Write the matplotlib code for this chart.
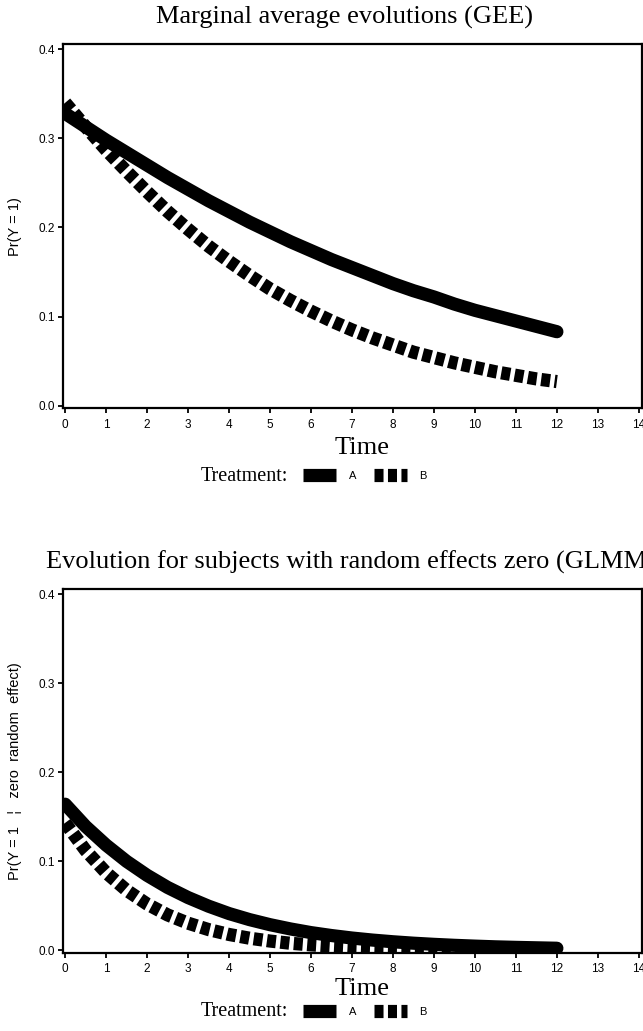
import matplotlib.pyplot as plt
from matplotlib.lines import Line2D

# values (probability curves per treatment)
time = [0, 0.5, 1, 1.5, 2, 2.5, 3, 3.5, 4, 4.5, 5, 5.5, 6, 6.5, 7, 7.5, 8,
        8.5, 9, 9.5, 10, 10.5, 11, 11.5, 12]

gee_a = [0.328, 0.313, 0.298, 0.284, 0.270, 0.256, 0.243, 0.230, 0.218, 0.206,
         0.195, 0.184, 0.174, 0.164, 0.155, 0.146, 0.137, 0.129, 0.122, 0.114,
         0.107, 0.101, 0.095, 0.089, 0.083]
gee_b = [0.340, 0.313, 0.287, 0.263, 0.240, 0.218, 0.198, 0.179, 0.162, 0.146,
         0.131, 0.118, 0.106, 0.095, 0.085, 0.076, 0.068, 0.060, 0.054, 0.048,
         0.043, 0.038, 0.034, 0.030, 0.027]

glmm_a = [0.164, 0.139, 0.118, 0.0997, 0.084, 0.0704, 0.059, 0.0493, 0.041,
          0.0342, 0.0285, 0.0237, 0.0196, 0.0163, 0.0135, 0.0112, 0.0093,
          0.0077, 0.0064, 0.0053, 0.0044, 0.0036, 0.0030, 0.0025, 0.0020]
glmm_b = [0.143, 0.112, 0.087, 0.0672, 0.0517, 0.0395, 0.0302, 0.0230, 0.0175,
          0.0133, 0.0101, 0.0076, 0.0058, 0.0044, 0.0033, 0.0025, 0.0019,
          0.0014, 0.0011, 0.0008, 0.0006, 0.0005, 0.0004, 0.0003, 0.0002]

x_ticks = list(range(15))
y_ticks = [0.0, 0.1, 0.2, 0.3, 0.4]
groups = ["A", "B"]

W, H = 643, 1031
LW = 9.5
DASH = (6.5, 3.2)

plt.rcParams["font.family"] = ["Liberation Sans", "DejaVu Sans"]
plt.rcParams["lines.scale_dashes"] = False
SERIF = ["Liberation Serif", "DejaVu Serif"]


def fx(px):
    return px / W


def fy(py):
    return 1 - py / H


def draw_panel(fig, top, bottom, a, b, title, title_kw, ylabel, time_y, legend_y):
    ax = fig.add_axes([fx(62.7), fy(bottom), fx(641.7 - 62.7), (bottom - top) / H])
    ax.plot(time, a, color="black", lw=LW, solid_capstyle="round",
            solid_joinstyle="round")
    ax.plot(time, b, color="black", lw=LW, dashes=DASH, dash_capstyle="butt")
    ax.set_xlim(-0.06, 14.07)
    ax.set_ylim(-0.003, 0.406)
    ax.set_xticks(x_ticks)
    ax.set_yticks(y_ticks)
    ax.set_yticklabels([f"{v:.1f}" for v in y_ticks])
    ax.tick_params(direction="out", length=3.5, width=1.3, labelsize=8.5)
    ax.tick_params(axis="x", pad=4)
    ax.tick_params(axis="y", pad=2)
    for s in ax.spines.values():
        s.set_linewidth(1.6)

    fig.text(fx(15.5), fy((top + bottom) / 2), ylabel, rotation=90,
             ha="center", va="center", fontsize=10.5)
    fig.text(s=title, family=SERIF, fontsize=19, va="baseline", **title_kw)
    fig.text(fx(362), fy(time_y), "Time", family=SERIF, fontsize=19,
             ha="center", va="center")
    fig.text(fx(201), fy(legend_y), "Treatment:", family=SERIF, fontsize=14.5,
             ha="left", va="center")

    handles = [Line2D([], [], color="black", lw=LW, solid_capstyle="butt"),
               Line2D([], [], color="black", lw=LW, dashes=DASH,
                      dash_capstyle="butt")]
    fig.legend(handles, groups, ncol=2, frameon=False, loc="center left",
               bbox_to_anchor=(fx(303), fy(legend_y)), borderpad=0,
               borderaxespad=0, handlelength=3.0, handletextpad=1.1,
               columnspacing=1.6, prop={"size": 8})
    return ax


def main():
    fig = plt.figure(figsize=(W / 100, H / 100), dpi=100)

    draw_panel(fig, 44, 408.3, gee_a, gee_b,
               "Marginal average evolutions (GEE)",
               {"x": fx(345), "y": fy(24), "ha": "center"},
               "Pr(Y = 1)", 448, 476)
    draw_panel(fig, 589, 952.7, glmm_a, glmm_b,
               "Evolution for subjects with random effects zero (GLMM)",
               {"x": fx(46), "y": fy(569), "ha": "left"},
               "Pr(Y = 1   \u00a6   zero  random  effect)", 989, 1012)

    fig.savefig("out.png", dpi=100)


if __name__ == "__main__":
    main()
